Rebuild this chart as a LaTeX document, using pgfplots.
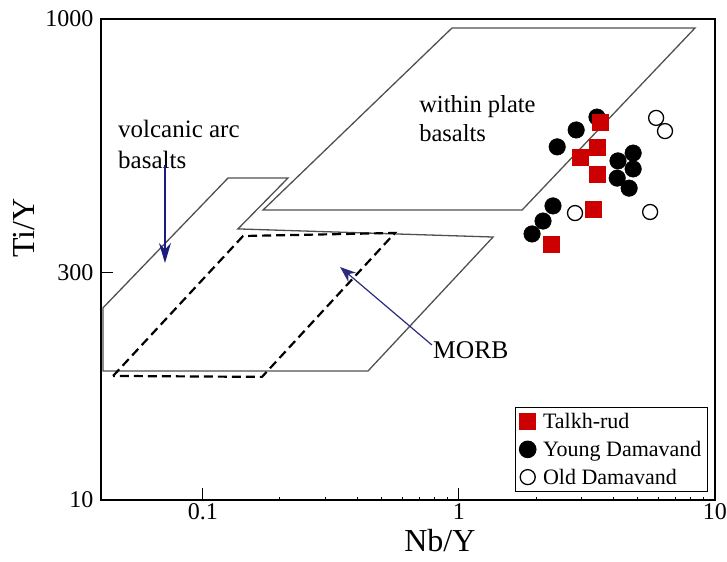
\documentclass[border=0pt]{standalone}
\usepackage{pgfplots}
\pgfplotsset{compat=1.18}
\usepackage{fontspec}
\setmainfont{Liberation Serif}
\usetikzlibrary{arrows.meta}

\definecolor{talkh}{HTML}{CC0000}
\definecolor{arrowblue}{HTML}{1C1C80}
\definecolor{fieldgray}{HTML}{505050}

\begin{document}
\begin{tikzpicture}
\begin{axis}[
  scale only axis, width=614pt, height=481pt,
  xmode=log, ymode=log,
  xmin=0.04, xmax=10, ymin=10, ymax=1000,
  xtick={0.1,1,10}, xticklabels={0.1,1,10},
  ytick={10,88,1000}, yticklabels={10,300,1000},
  minor xtick={}, minor ytick={},
  tick pos=left, tick align=inside,
  major tick length=12pt,
  tick style={black, line width=1pt},
  axis line style={line width=2.5pt},
  /pgf/number format/assume math mode=true,
  ticklabel style={font=\fontsize{24}{24}\selectfont},
  yticklabel style={xshift=-4pt},
  xlabel={Nb/Y}, ylabel={Ti/Y},
  xlabel style={at={(rel axis cs:0.552,-0.108)}, anchor=base, font=\fontsize{32}{32}\selectfont},
  ylabel style={at={(rel axis cs:-0.1075,0.5655)}, anchor=base, font=\fontsize{32}{32}\selectfont},
  reverse legend,
  legend cell align=left,
  legend style={at={(0.9886,0.0166)}, anchor=south east, draw=black, line width=1pt,
    font=\fontsize{22}{24}\selectfont, row sep=7pt, inner sep=4pt,
    /tikz/every odd column/.append style={column sep=5pt}},
]

% tectonic fields
\addplot[fieldgray, line width=1.3pt, forget plot] coordinates {
  (0.0407,62.9) (0.1253,218) (0.2148,218) (0.1371,134) (1.359,124) (0.4416,34.4) (0.0407,34.4)
} -- cycle;
\addplot[fieldgray, line width=1.3pt, forget plot] coordinates {
  (0.1718,160.6) (0.940,918) (8.36,918) (1.765,160.6)
} -- cycle;
\addplot[black, line width=2.2pt, dash pattern=on 9pt off 5pt, forget plot] coordinates {
  (0.0446,32.8) (0.1435,125.2) (0.5623,128.9) (0.1702,32.5)
} -- cycle;

% samples
\addplot[only marks, mark=o, mark size=7.5pt, mark options={draw=black, fill=white, line width=1.3pt}] coordinates {
  (5.89,388) (6.38,342) (2.84,156) (5.58,157.6)
};
\addlegendentry{Old Damavand}
\addplot[only marks, mark=*, mark size=8.3pt, mark options={draw=black, fill=black}] coordinates {
  (3.46,391) (2.87,345.6) (2.42,294) (4.18,257) (4.79,277) (4.79,238)
  (4.15,218) (4.62,198) (2.33,167) (2.13,144.5) (1.93,127.7)
};
\addlegendentry{Young Damavand}
\addplot[only marks, mark=square*, mark size=8pt, mark options={draw=talkh, fill=talkh}] coordinates {
  (3.56,373) (3.46,294) (2.97,267) (3.46,227) (3.34,162) (2.29,116)
};
\addlegendentry{Talkh-rud}

% annotations
\node[anchor=base west, inner sep=0, font=\fontsize{25}{25}\selectfont] at (rel axis cs:0.0277,0.7526) {volcanic arc};
\node[anchor=base west, inner sep=0, font=\fontsize{25}{25}\selectfont] at (rel axis cs:0.0277,0.6902) {basalts};
\node[anchor=base west, inner sep=0, font=\fontsize{24.5}{25}\selectfont] at (rel axis cs:0.518,0.8046) {within plate};
\node[anchor=base west, inner sep=0, font=\fontsize{24.5}{25}\selectfont] at (rel axis cs:0.518,0.7443) {basalts};
\node[anchor=base west, inner sep=0, font=\fontsize{25.5}{25}\selectfont] at (rel axis cs:0.5407,0.2952) {MORB};
\draw[arrowblue, line width=1.5pt, -{Stealth[length=20pt,width=12pt]}]
  (rel axis cs:0.1042,0.6965) -- (rel axis cs:0.1042,0.4927);
\draw[arrowblue!85!gray, line width=1.2pt, -{Stealth[length=16pt,width=12pt]}]
  (rel axis cs:0.539,0.3222) -- (rel axis cs:0.3893,0.4844);
\end{axis}
\pgfresetboundingbox
\path ([shift={(-101pt,-62pt)}]current axis.south west) rectangle ([shift={(12pt,19pt)}]current axis.north east);
\end{tikzpicture}
\end{document}
